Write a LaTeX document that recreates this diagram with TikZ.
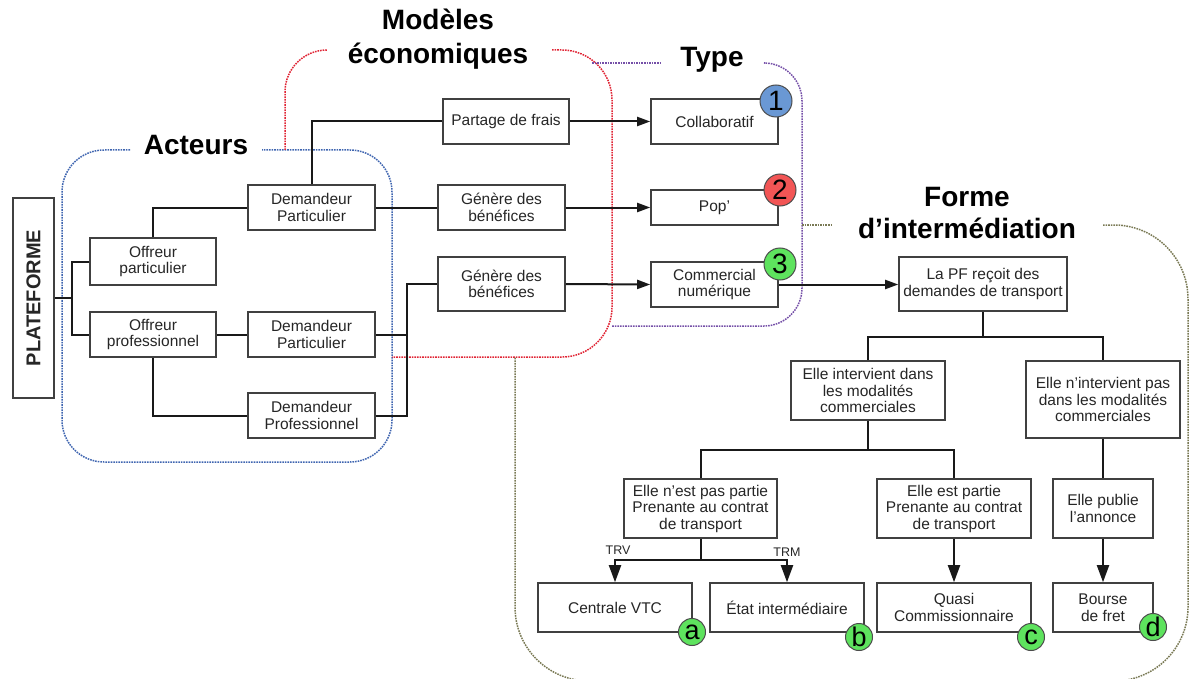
\documentclass[tikz,border=0pt]{standalone}
\usepackage{fontspec}
\setmainfont{Liberation Sans}
\usetikzlibrary{arrows.meta}
\definecolor{bluedash}{HTML}{3F65B0}
\definecolor{reddash}{HTML}{E02535}
\definecolor{purpledash}{HTML}{7550A8}
\definecolor{olivedash}{HTML}{7A7A55}
\definecolor{cblue}{HTML}{6A98D4}
\definecolor{cred}{HTML}{F25555}
\definecolor{cgreen}{HTML}{5EE35E}
\begin{document}
\begin{tikzpicture}[x=1pt,y=-1pt,
  box/.style={draw=black!75, line width=1.6pt, fill=white, align=center, inner sep=0pt,
    text=black!85, font=\fontsize{15.5}{16.5}\selectfont},
  conn/.style={draw=black!90, line width=2pt},
  arr/.style={conn, -{Triangle[length=17pt,width=12pt]}},
  sarr/.style={conn, -{Triangle[length=13pt,width=9pt]}},
  region/.style={line width=1.5pt, dash pattern=on 1.6pt off 1pt, rounded corners=#1},
  title/.style={font=\fontsize{28}{34}\bfseries\selectfont, text=black, align=center},
  badge/.style={circle, draw=black!70, line width=1pt, inner sep=0pt, minimum size=32pt,
    font=\fontsize{28}{28}\selectfont},
  sbadge/.style={circle, draw=black!70, line width=1pt, inner sep=0pt, minimum size=27pt,
    font=\fontsize{27}{27}\selectfont},
  lbl/.style={font=\fontsize{12.5}{12.5}\selectfont, text=black!85}
]
\useasboundingbox (0,0) rectangle (1190,679);

% ---------- dashed regions ----------
\draw[region=42, bluedash] (130,150) -- (62,150) -- (62,462) -- (392,462) -- (392,150) -- (262,150);
\draw[region=42, reddash] (285,150) -- (285,50) -- (327,50);
\draw[region=50, reddash] (552,50) -- (612,50) -- (612,357) -- (392,357);
\draw[region=38, purpledash] (592,63) -- (660,63);
\draw[region=38, purpledash] (765,63) -- (802,63) -- (802,326) -- (612,326);
\draw[region=74, olivedash] (802,225) -- (832,225);
\draw[region=74, olivedash] (1103,225) -- (1188,225) -- (1188,681) -- (515,681) -- (515,357);

% ---------- titles ----------
\node[title] (tact) at (196,145) {Acteurs};
\node[title] (tmod) at (438,39) {Modèles\\économiques};
\node[title] (ttype) at (712,60) {Type};
\node[title, font=\fontsize{28}{32}\bfseries\selectfont] (tforme) at (967,213) {Forme\\d’intermédiation};

% ---------- nodes ----------
\node[box, minimum width=41pt, minimum height=200pt] (plat) at (33.5,298)
  {\rotatebox{90}{\fontsize{20}{20}\bfseries\selectfont PLATEFORME}};
\node[box, minimum width=126pt, minimum height=47pt] (op) at (153,261.5) {Offreur\\particulier};
\node[box, minimum width=126pt, minimum height=45pt] (opro) at (153,334.5) {Offreur\\professionnel};
\node[box, minimum width=127pt, minimum height=45pt] (dp1) at (311.5,207.5) {Demandeur\\Particulier};
\node[box, minimum width=127pt, minimum height=45pt] (dp2) at (311.5,334.5) {Demandeur\\Particulier};
\node[box, minimum width=127pt, minimum height=45pt] (dpro) at (311.5,415.5) {Demandeur\\Professionnel};
\node[box, minimum width=126pt, minimum height=45pt] (pf) at (506,121.5) {Partage de frais};
\node[box, minimum width=127pt, minimum height=45pt] (gb1) at (501.5,207.5) {Génère des\\bénéfices};
\node[box, minimum width=127pt, minimum height=54pt] (gb2) at (501.5,284) {Génère des\\bénéfices};
\node[box, minimum width=127pt, minimum height=45pt] (col) at (714.5,121.5) {Collaboratif};
\node[box, minimum width=127pt, minimum height=35pt] (pop) at (714.5,207.5) {Pop’};
\node[box, minimum width=127pt, minimum height=45pt] (com) at (714.5,284.5) {Commercial\\numérique};
\node[box, minimum width=168pt, minimum height=54pt] (lapf) at (983,284) {La PF reçoit des\\demandes de transport};
\node[box, minimum width=154pt, minimum height=59pt] (ei) at (868,390.5) {Elle intervient dans\\les modalités\\commerciales};
\node[box, minimum width=154pt, minimum height=77pt] (eni) at (1103,399.5) {Elle n’intervient pas\\dans les modalités\\commerciales};
\node[box, minimum width=153pt, minimum height=59pt] (nep) at (700.5,508.5) {Elle n’est pas partie\\Prenante au contrat\\de transport};
\node[box, minimum width=154pt, minimum height=59pt] (ep) at (954,508.5) {Elle est partie\\Prenante au contrat\\de transport};
\node[box, minimum width=100pt, minimum height=59pt] (pub) at (1103,508.5) {Elle publie\\l’annonce};
\node[box, minimum width=154pt, minimum height=49pt] (vtc) at (615,607.5) {Centrale VTC};
\node[box, minimum width=154pt, minimum height=49pt] (etat) at (787,607.5) {État intermédiaire};
\node[box, minimum width=154pt, minimum height=49pt] (quasi) at (954,607.5) {Quasi\\Commissionnaire};
\node[box, minimum width=100pt, minimum height=49pt] (bourse) at (1103,607.5) {Bourse\\de fret};

% ---------- badges ----------
\node[badge, fill=cblue] (b1) at (776,101) {1};
\node[badge, fill=cred] (b2) at (780,190) {2};
\node[badge, fill=cgreen] (b3) at (780,264) {3};
\node[sbadge, fill=cgreen] (ba) at (692,632) {a};
\node[sbadge, fill=cgreen] (bb) at (859,637) {b};
\node[sbadge, fill=cgreen] (bc) at (1031,637) {c};
\node[sbadge, fill=cgreen] (bd) at (1153,627) {d};

% ---------- connectors ----------
\coordinate (j0) at (72,298);
\draw[conn] (plat.east) -- (j0);
\draw[conn] (op.west) -| (j0) |- (opro.west);
\draw[conn] (op.north) |- (dp1.west);
\draw[conn] (opro.east) -- (dp2.west);
\draw[conn] (opro.south) |- (dpro.west);
\draw[conn] (dp1.north) |- (pf.west);
\draw[conn] (dp1.east) -- (gb1.west);
\coordinate (j2) at (407,334.5);
\draw[conn] (dp2.east) -- (j2);
\draw[conn] (dpro.east) -| (j2) |- (gb2.west);

\draw[sarr] (pf.east) -- (col.west);
\draw[sarr] (gb1.east) -- (pop.west);
\draw[sarr] (gb2.east) -- (com.west);
\draw[sarr] (com.east) -- (com.east -| lapf.west);

\coordinate (j3) at (983,337);
\draw[conn] (lapf.south) -- (j3);
\draw[conn] (ei.north) |- (j3) -| (eni.north);
\coordinate (j4) at (868,450);
\draw[conn] (ei.south) -- (j4);
\draw[conn] (nep.north) |- (j4) -| (ep.north);
\coordinate (j5) at (700.5,560);
\draw[conn] (nep.south) -- (j5);
\draw[arr] (j5) -| (vtc.north);
\draw[arr] (j5) -| (etat.north);
\draw[arr] (ep.south) -- (quasi.north);
\draw[conn] (eni.south) -- (pub.north);
\draw[arr] (pub.south) -- (bourse.north);

\node[lbl] (ltrv) at (618,550) {TRV};
\node[lbl] (ltrm) at (787,552) {TRM};
\end{tikzpicture}
\end{document}
